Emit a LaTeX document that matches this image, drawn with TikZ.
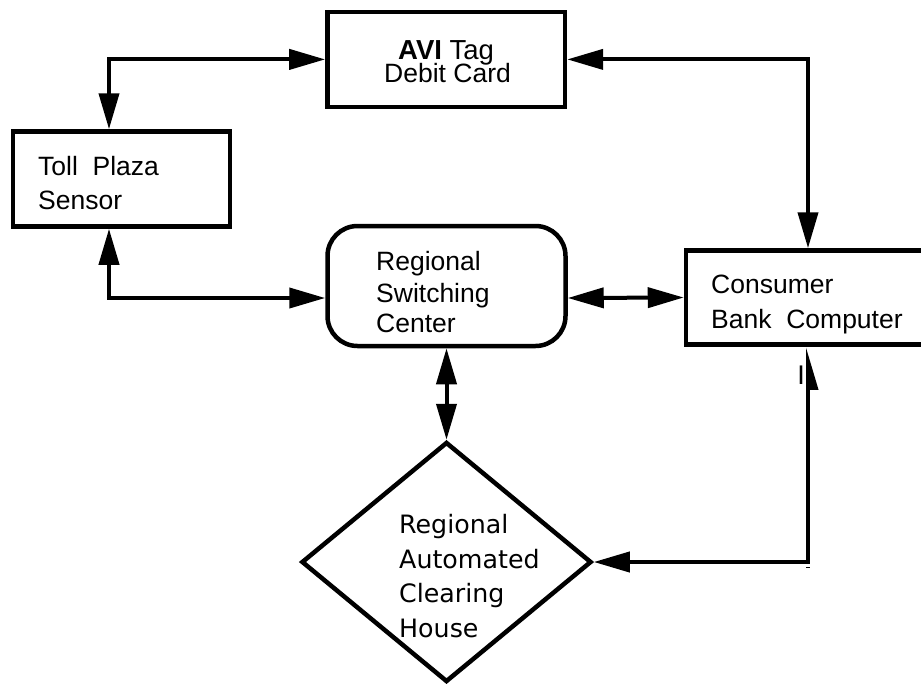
\documentclass[tikz,border=0pt]{standalone}
\usepackage{fontspec}
\setmainfont{Liberation Sans}
\newfontfamily\achfont{DejaVu Sans}
\usetikzlibrary{arrows.meta,shapes.geometric}
\tikzset{
  bigtri/.tip={Triangle[length=36pt,width=20pt]},
  halftri/.tip={Triangle[length=36pt,width=20pt,harpoon,swap]},
  box/.style={draw, line width=4.5pt, inner sep=0pt},
  link/.style={line width=4pt, {bigtri}-{bigtri}},
  lbl/.style={anchor=base west, inner sep=0pt, font=\fontsize{26.5}{30}\selectfont},
  achlbl/.style={anchor=base west, inner sep=0pt, font=\achfont\fontsize{25.3}{30}\selectfont}
}
\begin{document}
\begin{tikzpicture}[x=1pt,y=-1pt]
\useasboundingbox (0,0) rectangle (921,683);
\fill[white] (0,0) rectangle (921,683);
\clip (0,0) rectangle (921,683);

% blocks
\node[box, minimum width=237.5pt, minimum height=95.3pt] (avi) at (446.2,59.4) {};
\node[box, minimum width=217pt, minimum height=95pt] (toll) at (121.5,179) {};
\node[box, rounded corners=30pt, minimum width=238pt, minimum height=120pt] (rsc) at (446.5,286) {};
\node[box, minimum width=244pt, minimum height=94pt] (cbc) at (808,297.5) {};
\node[box, diamond, minimum width=290pt, minimum height=240pt] (rach) at (446.5,562) {};

% block texts
\node[lbl, font=\fontsize{27.5}{30}\selectfont] (avitxt) at (398,59) {\textbf{AVI} Tag};
\node[lbl] (debit) at (384,82) {Debit Card};
\node[lbl] (toll1) at (38,175) {Toll\ \ Plaza};
\node[lbl] (toll2) at (38,209) {Sensor};
\node[lbl] (rsc1) at (376,270) {Regional};
\node[lbl] (rsc2) at (376,302) {Switching};
\node[lbl] (rsc3) at (376,332) {Center};
\node[lbl] (cbc1) at (711,293) {Consumer};
\node[lbl] (cbc2) at (711,328) {Bank\ \ Computer};
\node[achlbl] (ach1) at (399,533) {Regional};
\node[achlbl] (ach2) at (399,568) {Automated};
\node[achlbl] (ach3) at (399,602) {Clearing};
\node[achlbl] (ach4) at (399,637) {House};
\node[anchor=base, inner sep=0pt, font=\fontsize{27}{30}\selectfont] (mark) at (801,384) {I};

% connectors
\draw[link] ([xshift=-12.5pt]toll.north) |- (avi.west);
\draw[link] ([xshift=-12.5pt]toll.south) |- ([yshift=-12pt]rsc.west);
\draw[link] (avi.east) -| (cbc.north);
\draw[link] ([yshift=-12pt]rsc.east) -- (cbc.west);
\draw[link] (rsc.south) -- (rach.north);
\draw[line width=4pt, {halftri}-{bigtri}] (cbc.south) |- (rach.east);
\draw[line width=0.8pt] (806,567) -- (810,567);
\end{tikzpicture}
\end{document}
